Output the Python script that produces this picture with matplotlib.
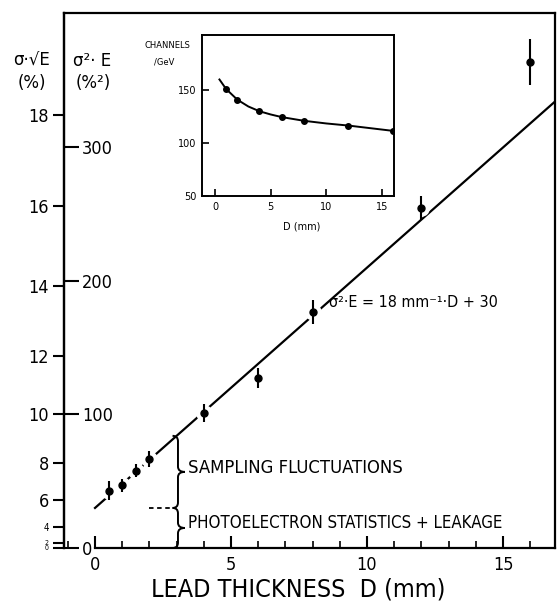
import matplotlib
matplotlib.use('Agg')
import matplotlib.pyplot as plt
from matplotlib.path import Path
from matplotlib.patches import PathPatch
from matplotlib.ticker import MultipleLocator
import numpy as np

plt.rcParams['font.family'] = ['DejaVu Sans']

# ---- data ----
lead_mm = [0.5, 1.0, 1.5, 2.0, 4.0, 6.0, 8.0, 12.0, 16.0]
sigma2E = [43, 47, 58, 67, 101, 127, 177, 255, 364]
sigma2E_err = [7, 5, 5, 6, 7, 7.5, 9, 9, 17]
fit_slope = 18.0
fit_intercept = 30.0
left_tick_vals = [0, 2, 4, 6, 8, 10, 12, 14, 16, 18]      # sigma*sqrt(E) in %
right_tick_vals = [0, 100, 200, 300]                     # sigma^2*E in %^2
x_tick_vals = [0, 5, 10, 15]

inset_D = [1, 2, 4, 6, 8, 12, 16]
inset_channels = [151, 140.5, 130, 124.5, 120.7, 116, 111]
inset_curve_D = [0.4, 1, 2, 3, 4, 5, 6, 8, 10, 12, 14, 16]
inset_curve_ch = [160, 151, 141, 134.5, 130, 127, 124.5, 121, 118.5, 116.5, 114, 111.5]
inset_xticks = [0, 5, 10, 15]
inset_yticks = [50, 100, 150]

W, H = 559, 603
fig = plt.figure(figsize=(W / 100, H / 100), dpi=100)

def fx(px):
    return px / W

def fy(py):
    return 1 - py / H

COND = dict(family='DejaVu Sans', stretch='condensed')

# ---- main axes ----
ax = fig.add_axes([fx(64), fy(548), fx(555) - fx(64), fy(13) - fy(548)])
ax.set_xlim(-1.14, 16.91)
ax.set_ylim(0, 400.7)
for s in ax.spines.values():
    s.set_linewidth(1.6)
ax.spines['bottom'].set_bounds(0, 16.91)

# fit line
d_line = np.array([0.0, 16.91])
ax.plot(d_line, fit_slope * d_line + fit_intercept, color='black', lw=1.6, zorder=1)
# white halo for the gaps around the points
ax.plot(lead_mm, sigma2E, linestyle='none', marker='o', ms=11, color='white', zorder=2)
ax.errorbar(lead_mm, sigma2E, yerr=sigma2E_err, fmt='none', ecolor='black',
            elinewidth=1.5, capsize=0, zorder=3)
ax.plot(lead_mm, sigma2E, linestyle='none', marker='o', ms=5, color='black', zorder=4)

# x axis ticks
ax.set_xticks(x_tick_vals)
ax.set_xticklabels([str(v) for v in x_tick_vals])
ax.xaxis.set_minor_locator(MultipleLocator(1))
ax.tick_params(axis='x', which='major', direction='in', length=9, width=1.5,
               pad=6, labelsize=12)
ax.tick_params(axis='x', which='minor', direction='in', length=5, width=1.2)
for lab in ax.get_xticklabels():
    lab.set_fontstretch('condensed')
    lab.set_fontsize(13)
ax.set_xlabel('LEAD THICKNESS  D (mm)', fontsize=18, labelpad=2, **COND)
ax.xaxis.set_label_coords((298 - 64) / (555 - 64), -0.055)

# left (sigma*sqrt(E)) scale: positions are the squares
ax.set_yticks([v ** 2 for v in left_tick_vals])
ax.set_yticklabels([str(v) for v in left_tick_vals])
ax.tick_params(axis='y', direction='out', length=8, width=1.5, pad=3, labelsize=12)
for lab, v in zip(ax.get_yticklabels(), left_tick_vals):
    lab.set_fontstretch('condensed')
    if v == 4:
        lab.set_fontsize(7)
    elif v < 4:
        lab.set_fontsize(5)
    else:
        lab.set_fontsize(13)

# sigma^2*E scale on same spine, labels inside
ax2 = ax.twinx()
ax2.set_ylim(ax.get_ylim())
ax2.spines['right'].set_position(('axes', 0))
for k in ['left', 'top', 'bottom']:
    ax2.spines[k].set_visible(False)
ax2.spines['right'].set_linewidth(1.6)
ax2.set_yticks(right_tick_vals)
ax2.set_yticklabels([str(v) for v in right_tick_vals])
ax2.tick_params(axis='y', direction='out', length=11, width=1.5, pad=2, labelsize=13)
for lab in ax2.get_yticklabels():
    lab.set_fontstretch('condensed')

# axis headers
fig.text(fx(32), fy(61), 'σ·√E', fontsize=12, ha='center', va='center')
fig.text(fx(32), fy(83), '(%)', fontsize=12, ha='center', va='center')
fig.text(fx(92), fy(61), 'σ²· E', fontsize=12, ha='center', va='center')
fig.text(fx(93), fy(83), '(%²)', fontsize=12, ha='center', va='center')

# equation
ax.text(8.6, 184, 'σ²·E = 18 mm⁻¹·D + 30', fontsize=11.5, ha='left', va='center', **COND)

# braces
def brace(x0, ytop, ybot, h=0.2, tip=0.25, r=4.0):
    ymid = 0.5 * (ytop + ybot)
    verts = [(x0 - h, ytop), (x0, ytop), (x0, ytop - r),
             (x0, ymid + r), (x0, ymid), (x0 + tip, ymid),
             (x0, ymid), (x0, ymid - r),
             (x0, ybot + r), (x0, ybot), (x0 - h, ybot)]
    codes = [Path.MOVETO, Path.CURVE3, Path.CURVE3,
             Path.LINETO, Path.CURVE3, Path.CURVE3,
             Path.CURVE3, Path.CURVE3,
             Path.LINETO, Path.CURVE3, Path.CURVE3]
    ax.add_patch(PathPatch(Path(verts, codes), fill=False, lw=1.4, color='black'))

x_brace = 3.05
brace(x_brace, fit_slope * 3.0 + fit_intercept, fit_intercept)
brace(x_brace, fit_intercept, 0)
ax.plot([2.0, 2.75], [fit_intercept, fit_intercept], color='black', lw=1.3,
        linestyle=(0, (2.5, 2)))
ax.text(3.42, 60, 'SAMPLING FLUCTUATIONS', fontsize=13.2, ha='left', va='center', **COND)
ax.text(3.42, 18.5, 'PHOTOELECTRON STATISTICS + LEAKAGE', fontsize=12.1,
        ha='left', va='center', **COND)

# ---- inset ----
axi = fig.add_axes([fx(202), fy(196), fx(394) - fx(202), fy(35) - fy(196)])
axi.set_xlim(-1.17, 16.1)
axi.set_ylim(50, 202)
for s in axi.spines.values():
    s.set_linewidth(1.4)
axi.plot(inset_curve_D, inset_curve_ch, color='black', lw=1.4)
axi.plot(inset_D, inset_channels, linestyle='none', marker='o', ms=4, color='black')
axi.set_xticks(inset_xticks)
axi.set_xticklabels([str(v) for v in inset_xticks])
axi.set_yticks(inset_yticks)
axi.set_yticklabels([str(v) for v in inset_yticks])
axi.tick_params(direction='in', length=5, width=1.2, labelsize=7, pad=4)
fig.text(fx(167), fy(45), 'CHANNELS', fontsize=6, ha='center', va='center')
fig.text(fx(164), fy(62), '/GeV', fontsize=6, ha='center', va='center')
fig.text(fx(302), fy(226), 'D (mm)', fontsize=7, ha='center', va='center')

fig.savefig('out.png', dpi=100)
